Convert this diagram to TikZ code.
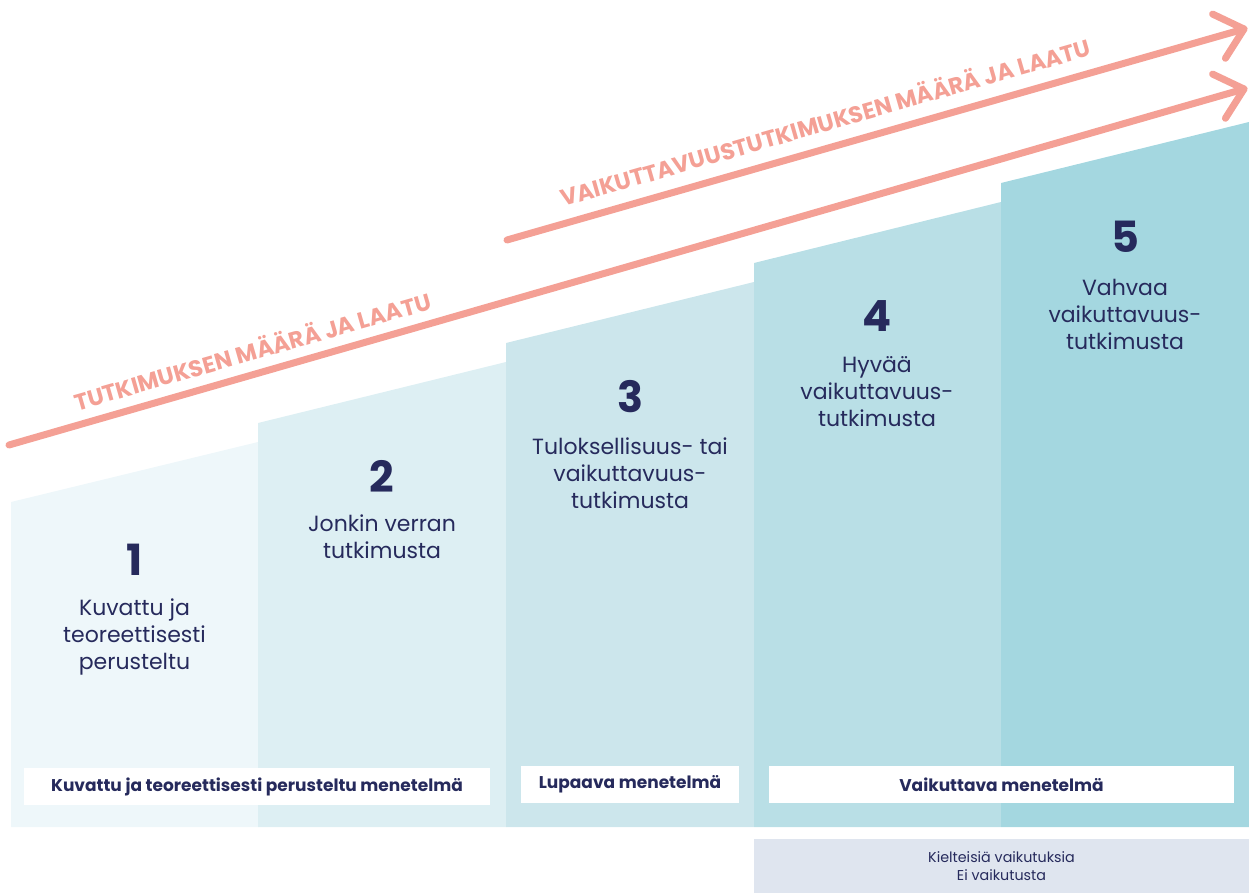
\documentclass[tikz,border=0pt]{standalone}
\usepackage{fontspec}
\setmainfont{Poppins}
\usetikzlibrary{calc}
\definecolor{cA}{HTML}{EEF7FA}
\definecolor{cB}{HTML}{DDEFF3}
\definecolor{cC}{HTML}{CCE6EC}
\definecolor{cD}{HTML}{B9DFE6}
\definecolor{cE}{HTML}{A4D7E0}
\definecolor{salmon}{HTML}{F4A095}
\definecolor{navy}{HTML}{262A5C}
\definecolor{greybox}{HTML}{DFE5EF}
\begin{document}
\begin{tikzpicture}[x=1pt,y=-1pt,
  arw/.style={draw=salmon,line width=7pt,line cap=round,line join=round},
  arwtext/.style={text=salmon,font=\bfseries\fontsize{23}{26}\selectfont,rotate=16,inner sep=0pt},
  num/.style={text=navy,font=\bfseries\fontsize{43}{45}\selectfont,inner sep=0pt},
  desc/.style={text=navy,font=\fontsize{22}{27}\selectfont,align=center,inner sep=0pt},
  lbl/.style={fill=white,text=navy,font=\bfseries\fontsize{17}{19}\selectfont,inner sep=0pt,minimum height=37pt},
  note/.style={fill=greybox,text=navy,font=\fontsize{14.3}{18}\selectfont,align=center,inner sep=0pt}]
\useasboundingbox (0,0) rectangle (1249,893);
% columns
\fill[cA] (11,502) -- (258,442) -- (258,827) -- (11,827) -- cycle;
\fill[cB] (258,423) -- (506,362) -- (506,827) -- (258,827) -- cycle;
\fill[cC] (506,343) -- (754,282) -- (754,827) -- (506,827) -- cycle;
\fill[cD] (754,263) -- (1001,202) -- (1001,827) -- (754,827) -- cycle;
\fill[cE] (1001,183) -- (1249,122) -- (1249,827) -- (1001,827) -- cycle;
% arrows
\coordinate (L0) at (9,445);
\coordinate (L1) at (1244,89);
\coordinate (U0) at (507,240);
\coordinate (U1) at (1244,29);
\draw[arw] (L0) -- (L1);
\draw[arw] ($(L1)+(-31.4,-14.9)$) -- (L1) -- ($(L1)+(-18.6,29.3)$);
\draw[arw] (U0) -- (U1);
\draw[arw] ($(U1)+(-31.4,-14.9)$) -- (U1) -- ($(U1)+(-18.6,29.3)$);
\node[arwtext] (t1) at (252,350) {TUTKIMUKSEN MÄÄRÄ JA LAATU};
\node[arwtext] (t2) at (825,121) {VAIKUTTAVUUSTUTKIMUKSEN MÄÄRÄ JA LAATU};
% numbers and descriptions
\node[num] (n1) at (134.5,560) {1};
\node[desc] (d1) at (134.5,637) {Kuvattu ja\\teoreettisesti\\perusteltu};
\node[num] (n2) at (382,476) {2};
\node[desc] (d2) at (382,537) {Jonkin verran\\tutkimusta};
\node[num] (n3) at (630,397) {3};
\node[desc] (d3) at (630,473) {Tuloksellisuus- tai\\vaikuttavuus-\\tutkimusta};
\node[num] (n4) at (877,316) {4};
\node[desc] (d4) at (877,392) {Hyvää\\vaikuttavuus-\\tutkimusta};
\node[num] (n5) at (1125,237) {5};
\node[desc] (d5) at (1125,314) {Vahvaa\\vaikuttavuus-\\tutkimusta};
% labels
\node[lbl,minimum width=466pt] (b1) at (257,786.5) {Kuvattu ja teoreettisesti perusteltu menetelmä};
\node[lbl,minimum width=218pt] (b2) at (630,784.5) {Lupaava menetelmä};
\node[lbl,minimum width=465pt] (b3) at (1001.5,784.5) {Vaikuttava menetelmä};
\node[note,minimum width=495pt,minimum height=54pt] (g) at (1001.5,866) {Kielteisiä vaikutuksia\\Ei vaikutusta};
\end{tikzpicture}
\end{document}
